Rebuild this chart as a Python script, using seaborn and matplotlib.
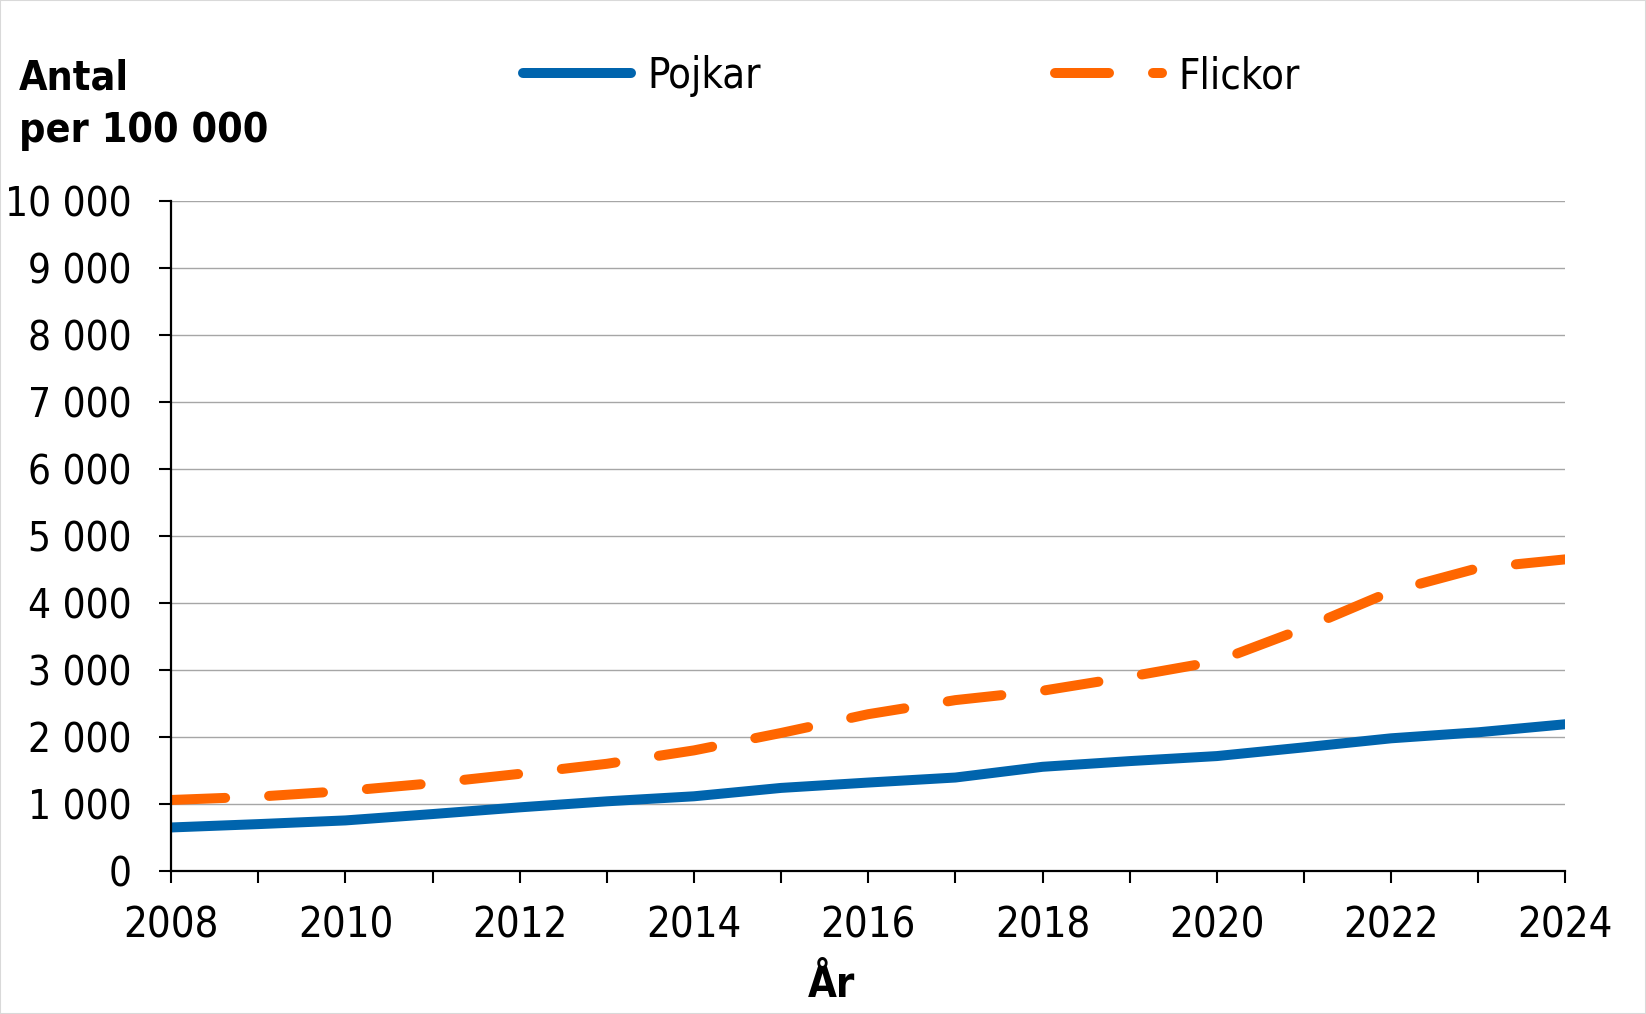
import matplotlib
matplotlib.use("Agg")
import matplotlib.pyplot as plt
import numpy as np
import pandas as pd
import seaborn as sns
from matplotlib.ticker import FixedLocator, FixedFormatter
from matplotlib.patches import Rectangle

# ---- data ----
years = list(range(2008, 2025))
pojkar = [650, 700, 755, 850, 950, 1040, 1115, 1240, 1320, 1395, 1555, 1640, 1715, 1845, 1980, 2070, 2190]
flickor = [1060, 1110, 1195, 1310, 1450, 1600, 1800, 2060, 2340, 2550, 2690, 2900, 3130, 3620, 4170, 4520, 4650]
series_names = ["Pojkar", "Flickor"]
y_ticks = list(range(0, 10001, 1000))
y_ticklabels = ["0", "1 000", "2 000", "3 000", "4 000", "5 000", "6 000", "7 000", "8 000", "9 000", "10 000"]
x_major = list(range(2008, 2025, 2))
x_minor = list(range(2009, 2024, 2))
y_title = "Antal\nper 100 000"
x_title = "År"

BLUE = "#0064AD"
ORANGE = "#FF6600"

sns.set_theme(style="white")
plt.rcParams["font.family"] = ["DejaVu Sans"]
plt.rcParams["font.stretch"] = "condensed"
plt.rcParams["text.color"] = "black"
FS = 30
FSY = 29
FSB = 29.5

fig = plt.figure(figsize=(16.46, 10.14), dpi=100)
ax = fig.add_axes([0.104, 0.141, 0.847, 0.661])

sns.lineplot(x=years, y=pojkar, ax=ax, color=BLUE, linewidth=7.2,
             label=series_names[0], solid_capstyle="round")
sns.lineplot(x=years, y=flickor, ax=ax, color=ORANGE, linewidth=7.2,
             label=series_names[1], linestyle=(0, (5.4, 4.4)), dash_capstyle="round")

ax.set_xlim(2008, 2024)
ax.set_ylim(0, 10000)
ax.set_xlabel("")
ax.set_ylabel("")

ax.yaxis.set_major_locator(FixedLocator(y_ticks))
ax.yaxis.set_major_formatter(FixedFormatter(y_ticklabels))
ax.xaxis.set_major_locator(FixedLocator(x_major))
ax.xaxis.set_minor_locator(FixedLocator(x_minor))
ax.set_xticklabels([str(y) for y in x_major])

ax.grid(axis="y", color="#A6A6A6", linewidth=1.0)
ax.grid(axis="x", visible=False)
for s in ["top", "right"]:
    ax.spines[s].set_visible(False)
for s in ["left", "bottom"]:
    ax.spines[s].set_color("black")
    ax.spines[s].set_linewidth(1.6)
ax.set_axisbelow(True)

ax.tick_params(axis="y", which="major", direction="out", length=8.6, width=1.5,
               color="black", pad=20, labelsize=FSY, labelcolor="black", left=True)
ax.tick_params(axis="x", which="both", direction="out", length=8.3, width=1.5,
               color="black", pad=15.5, labelsize=FS, labelcolor="black", bottom=True)
for lab in ax.get_xticklabels() + ax.get_yticklabels():
    lab.set_fontstretch("condensed")

handles, labels = ax.get_legend_handles_labels()
if ax.get_legend() is not None:
    ax.get_legend().remove()

leg_x = [0.318, 0.641]
for h, l, lx in zip(handles, labels, leg_x):
    fig.legend([h], [l], loc="center left", bbox_to_anchor=(lx, 0.925),
               frameon=False, fontsize=FS, handlelength=2.57, handletextpad=0.4,
               borderpad=0, borderaxespad=0, labelcolor="black")

fig.text(0.0115, 0.942, y_title, ha="left", va="top", fontsize=FSB,
         fontweight="bold", linespacing=1.4, color="black", fontstretch="condensed")
fig.text(0.505, 0.0168, x_title, ha="center", va="baseline", fontsize=FS,
         fontweight="bold", color="black", fontstretch="condensed")

fig.patches.append(Rectangle((0, 0), 1, 1, transform=fig.transFigure, fill=False,
                             edgecolor="#D9D9D9", linewidth=1.5))

fig.savefig("out.png", dpi=100)
